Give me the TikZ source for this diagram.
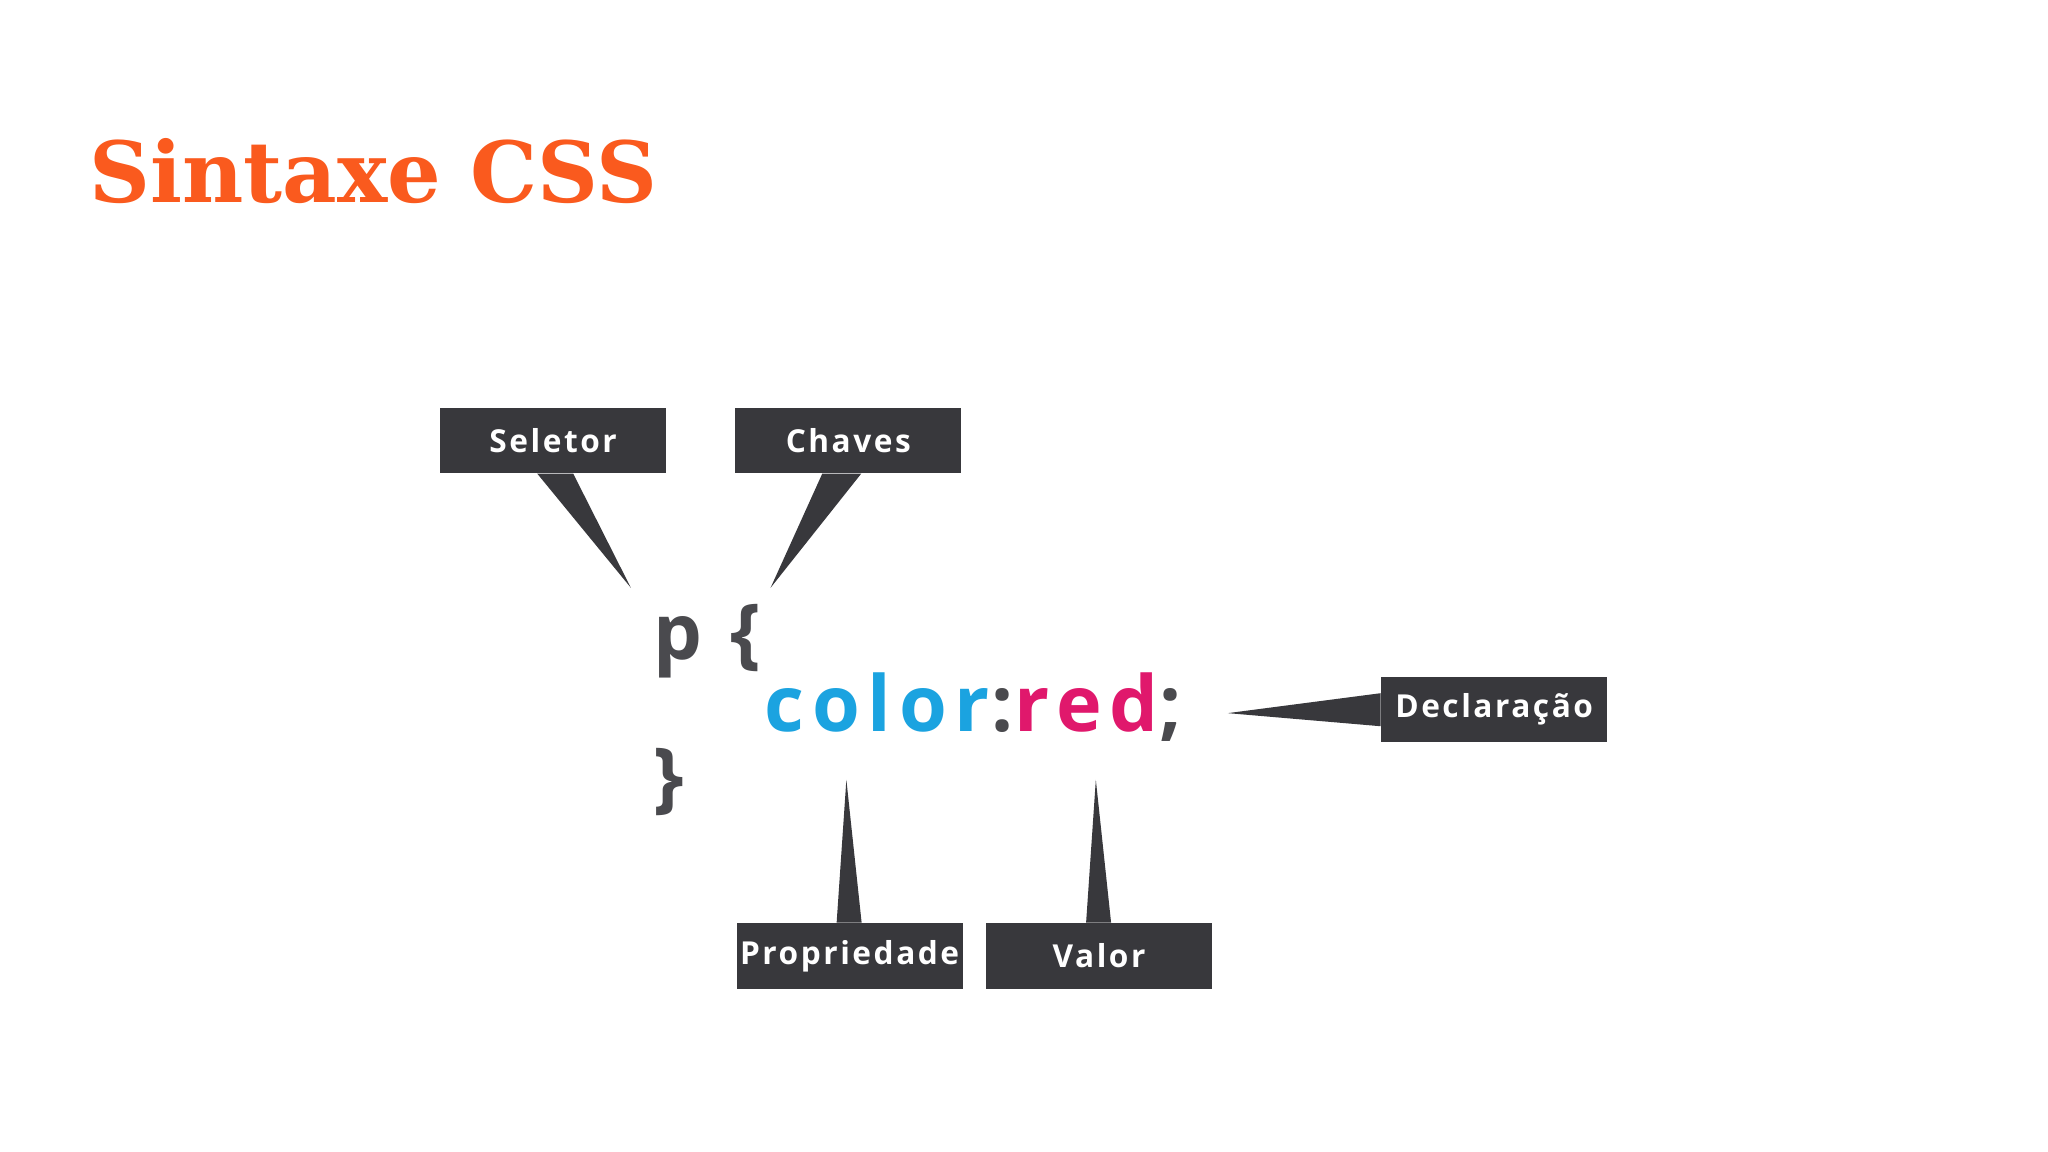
\documentclass[tikz,border=0pt]{standalone}
\usepackage{fontspec}
\setmainfont{DejaVu Serif}
\newfontfamily\codefont[LetterSpace=10]{Open Sans}
\newfontfamily\labelfont[LetterSpace=8]{Open Sans}
\definecolor{titleorange}{HTML}{FA5A1E}
\definecolor{boxgray}{HTML}{38383C}
\definecolor{codegray}{HTML}{4A4A4E}
\definecolor{propblue}{HTML}{1BA3E0}
\definecolor{valpink}{HTML}{E0186C}
\tikzset{
  tag/.style={fill=boxgray, text=white, minimum width=2.26cm, minimum height=0.653cm,
    inner sep=0pt, font=\labelfont\fontsize{9}{11}\selectfont\bfseries},
  pointer/.style={fill=boxgray, draw=none},
  code/.style={anchor=base west, inner sep=0pt, font=\codefont\fontsize{22}{26}\selectfont\bfseries}
}
\begin{document}
\begin{tikzpicture}[x=0.013061cm, y=-0.013061cm]
    \useasboundingbox[fill=white] (0,0) rectangle (1568,882);
    % title
    \node[anchor=base west, inner sep=0pt, text=titleorange,
      font=\fontsize{24}{28}\selectfont\bfseries] (title) at (68,155) {Sintaxe CSS};
    % code
    \node[code, text=codegray] (open)  at (500,505) {p \{};
    \node[code, text=propblue] (prop)  at (585,560) {color};
    \node[code, text=codegray] (colon) at (prop.base east) {:\ };
    \node[code, text=valpink]  (val)   at (colon.base east) {red};
    \node[code, text=codegray] (semi)  at (val.base east) {;};
    \node[code, text=codegray] (close) at (500,615) {\}};
    % tags
    \node[tag] (seletor)     at (423.5,337) {Seletor};
    \node[tag] (chaves)      at (649.5,337) {Chaves};
    \node[tag] (declaracao)  at (1144,543)  {Declaração};
    \node[tag] (propriedade) at (650.5,732) {Propriedade};
    \node[tag] (valor)       at (841.5,732) {Valor};
    % pointer tips
    \coordinate (tipsel)  at (483,450);
    \coordinate (tipcha)  at (590,450);
    \coordinate (tipdec)  at (940,546);
    \coordinate (tipprop) at (648,597);
    \coordinate (tipval)  at (839,597);
    % pointers
    \fill[pointer] ([xshift=-0.16cm]seletor.south) -- ([xshift=0.2cm]seletor.south) -- (tipsel) -- cycle;
    \fill[pointer] ([xshift=-0.26cm]chaves.south) -- ([xshift=0.13cm]chaves.south) -- (tipcha) -- cycle;
    \fill[pointer] ([yshift=-0.17cm]declaracao.west) -- ([yshift=0.16cm]declaracao.west) -- (tipdec) -- cycle;
    \fill[pointer] ([xshift=-0.13cm]propriedade.north) -- ([xshift=0.12cm]propriedade.north) -- (tipprop) -- cycle;
    \fill[pointer] ([xshift=-0.13cm]valor.north) -- ([xshift=0.12cm]valor.north) -- (tipval) -- cycle;
\end{tikzpicture}
\end{document}
